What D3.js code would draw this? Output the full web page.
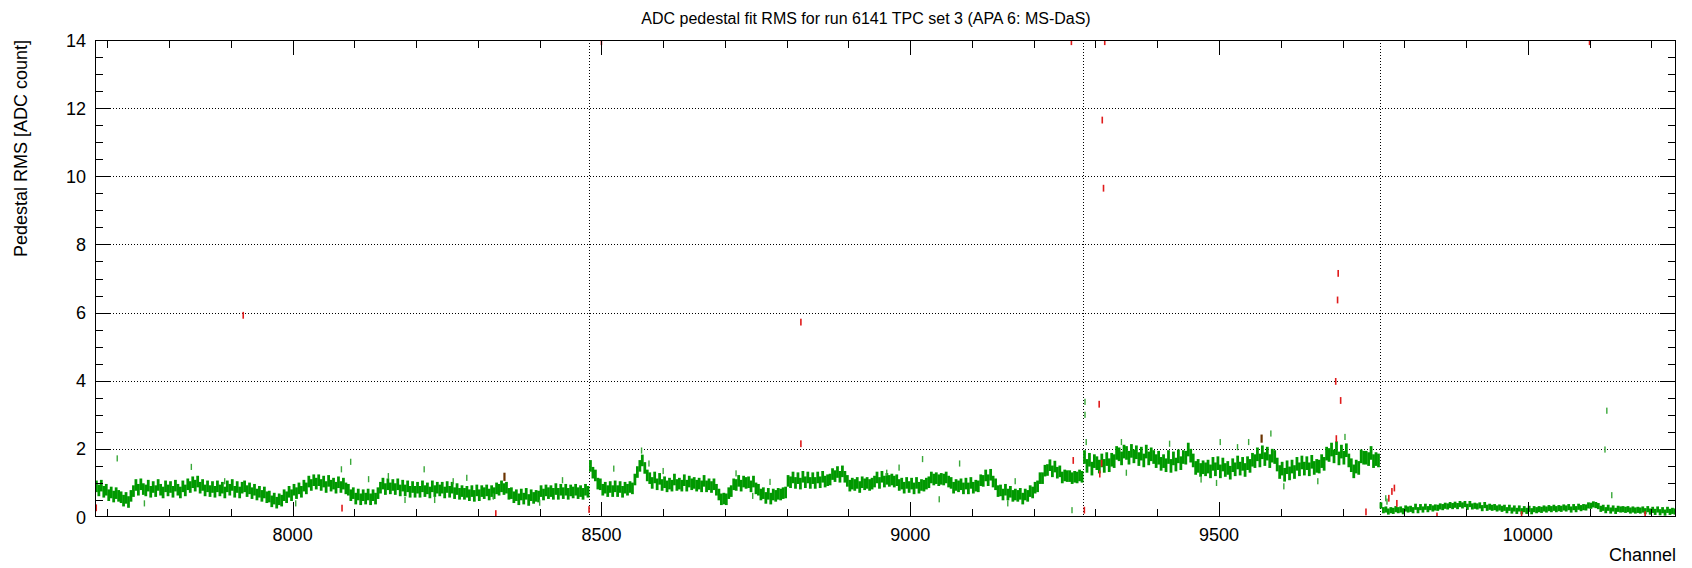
<!DOCTYPE html>
<html lang="en">
<head>
<meta charset="utf-8">
<title>ADC pedestal fit RMS</title>
<script src="https://d3js.org/d3.v7.min.js"></script>
<style>
  body { margin: 0; background: #fff; }
  svg { display: block; }
  text { font-family: "Liberation Sans", Arial, Helvetica, sans-serif; fill: #000; }
</style>
</head>
<body>
<script>
// channel range of APA 6 and section boundaries (dotted separators)
const chanRange = [7680, 10240];
const boundaries = [8480, 9280, 9760];
const step = 4; // one value every 4 channels

// pedestal RMS, one value per 4 channels, per section
const rmsA = [ // 7680 - 8479
  0.90,0.78,0.92,0.74,0.80,0.64,0.72,0.60,0.70,0.62, 0.58,0.48,0.56,0.44,0.62,0.76,0.94,0.80,0.96,0.82,
  0.78,0.92,0.74,0.88,0.76,0.94,0.80,0.72,0.90,0.78, 0.88,0.74,0.92,0.80,0.72,0.90,0.78,0.96,0.88,1.02,
  0.92,1.04,0.86,0.94,0.78,0.90,0.76,0.88,0.74,0.90, 0.78,0.86,0.72,0.90,0.80,0.94,0.74,0.88,0.72,0.86,
  0.90,0.76,0.84,0.70,0.80,0.66,0.74,0.62,0.72,0.58, 0.60,0.46,0.54,0.42,0.52,0.48,0.64,0.58,0.74,0.64,
  0.80,0.70,0.84,0.74,0.92,0.84,1.04,0.94,1.08,0.98, 1.08,0.94,1.04,0.88,1.06,0.92,0.98,0.86,1.02,0.88,
  0.98,0.84,0.80,0.64,0.70,0.54,0.66,0.52,0.64,0.54, 0.66,0.52,0.64,0.54,0.70,0.86,0.98,0.82,0.96,0.84,
  0.94,0.82,0.96,0.78,0.92,0.78,0.90,0.74,0.88,0.74, 0.86,0.74,0.90,0.76,0.84,0.72,0.90,0.76,0.86,0.78,
  0.86,0.72,0.88,0.74,0.86,0.70,0.82,0.68,0.76,0.68, 0.74,0.64,0.76,0.62,0.78,0.64,0.76,0.70,0.78,0.66,
  0.76,0.70,0.84,0.80,0.90,0.82,0.86,0.68,0.70,0.58, 0.64,0.52,0.66,0.54,0.68,0.50,0.64,0.56,0.62,0.60,
  0.76,0.66,0.78,0.70,0.76,0.68,0.82,0.68,0.80,0.70, 0.80,0.68,0.78,0.72,0.80,0.70,0.76,0.68,0.80,0.74
];
const rmsB = [ // 8480 - 9279
  1.50,1.30,1.22,0.98,0.96,0.80,0.86,0.76,0.88,0.76, 0.90,0.76,0.88,0.74,0.86,0.80,0.88,0.84,1.10,1.32,
  1.50,1.66,1.44,1.22,1.14,1.00,1.16,0.96,1.12,0.94, 1.02,0.90,0.98,0.92,1.10,0.94,0.98,0.92,1.08,0.92,
  1.04,0.96,1.00,0.92,0.98,0.90,1.06,0.90,0.96,0.88, 0.96,0.80,0.66,0.52,0.54,0.52,0.70,0.76,0.96,0.94,
  1.06,0.92,1.04,1.00,1.02,0.90,1.04,0.84,0.80,0.66, 0.70,0.56,0.68,0.54,0.66,0.62,0.68,0.66,0.70,0.72,
  1.06,1.02,1.16,1.00,1.14,0.98,1.18,1.02,1.16,1.00, 1.14,1.00,1.16,1.02,1.18,1.04,1.08,1.10,1.26,1.20,
  1.32,1.18,1.34,1.18,1.06,0.92,0.98,0.94,1.00,0.88, 1.02,0.96,1.00,0.94,0.98,1.04,1.16,1.00,1.18,1.04,
  1.12,1.06,1.10,1.04,1.08,0.94,0.98,0.86,1.00,0.88, 0.98,0.84,1.00,0.86,0.94,0.92,0.98,1.02,1.16,1.10,
  1.14,1.08,1.12,1.10,1.16,1.04,1.00,0.86,0.94,0.90, 0.96,0.84,0.98,0.84,1.00,0.86,0.92,0.90,1.08,1.06,
  1.22,1.08,1.24,1.04,0.96,0.76,0.78,0.66,0.80,0.66, 0.74,0.62,0.66,0.62,0.68,0.54,0.66,0.62,0.76,0.72,
  0.86,0.90,1.14,1.14,1.36,1.38,1.52,1.34,1.48,1.30, 1.34,1.16,1.22,1.20,1.20,1.14,1.18,1.16,1.22,1.18
];
const rmsC = [ // 9280 - 9759
  1.76,1.50,1.68,1.42,1.64,1.58,1.48,1.66,1.50,1.70, 1.52,1.68,1.64,1.88,1.84,1.72,1.92,1.88,1.74,1.94,
  1.78,1.90,1.70,1.86,1.66,1.92,1.72,1.84,1.76,1.64, 1.74,1.56,1.64,1.52,1.76,1.50,1.72,1.54,1.78,1.58,
  1.76,1.74,1.98,1.80,1.66,1.44,1.50,1.38,1.46,1.40, 1.48,1.34,1.56,1.40,1.58,1.34,1.54,1.38,1.44,1.30,
  1.52,1.40,1.60,1.42,1.56,1.38,1.58,1.50,1.68,1.64, 1.84,1.66,1.90,1.70,1.86,1.64,1.80,1.76,1.54,1.32,
  1.42,1.24,1.46,1.28,1.48,1.32,1.56,1.40,1.60,1.42, 1.58,1.40,1.62,1.44,1.50,1.48,1.64,1.56,1.86,1.82,
  1.98,1.78,2.02,1.72,1.92,1.74,1.96,1.66,1.52,1.34, 1.48,1.44,1.78,1.74,1.74,1.70,1.88,1.64,1.70,1.66
];
const rmsD = [ // 9760 - 10239
  0.34,0.20,0.22,0.16,0.20,0.18,0.23,0.20,0.22,0.17, 0.25,0.22,0.24,0.20,0.30,0.20,0.29,0.22,0.30,0.23,
  0.29,0.25,0.28,0.27,0.31,0.29,0.33,0.31,0.35,0.32, 0.36,0.32,0.38,0.34,0.38,0.30,0.38,0.31,0.33,0.31,
  0.34,0.26,0.35,0.27,0.30,0.27,0.29,0.25,0.28,0.24, 0.27,0.20,0.27,0.19,0.25,0.18,0.25,0.17,0.23,0.18,
  0.24,0.17,0.23,0.20,0.23,0.21,0.25,0.22,0.26,0.23, 0.27,0.23,0.26,0.24,0.28,0.25,0.29,0.22,0.29,0.23,
  0.30,0.26,0.29,0.28,0.34,0.33,0.37,0.35,0.32,0.24, 0.27,0.20,0.27,0.19,0.25,0.18,0.24,0.22,0.23,0.21,
  0.23,0.19,0.22,0.19,0.21,0.19,0.22,0.17,0.23,0.16, 0.21,0.15,0.22,0.14,0.20,0.13,0.21,0.15,0.18,0.16
];
const sectionStart = [7680, 8480, 9280, 9760];
const sectionErr = [0.17, 0.17, 0.2, 0.09];

// single-channel outliers [channel, rms]
const greenOut = [[7716,1.72],[7760,0.40],[7836,1.47],[7890,1.05],[8005,0.40],[8079,1.40],[8094,1.62],
  [8123,1.11],[8155,1.20],[8182,0.50],[8213,1.40],[8230,0.50],[8260,1.05],[8282,1.15],[8325,0.60],
  [8400,0.42],[8437,1.08],[8520,1.42],[8565,1.95],[8577,1.57],[8600,1.35],[8718,1.28],[8745,0.62],
  [8773,1.03],[8962,1.30],[8982,1.45],[9020,1.70],[9047,0.52],[9080,1.57],[9158,0.40],[9170,1.05],
  [9262,0.20],[9283,3.38],[9283,3.00],[9285,2.20],[9342,2.20],[9350,1.30],[9420,2.15],[9471,1.10],
  [9496,1.00],[9502,2.20],[9530,2.05],[9548,2.20],[9584,2.45],[9605,0.90],[9660,1.05],[9704,2.35],
  [9770,0.55],[9772,0.45],[10125,1.98],[10128,3.12],[10136,0.64]];
const redOut = [[7682,0.27],[7920,5.92],[8080,0.26],[8329,0.10],[8480,0.22],[8500,13.95],[8823,5.72],
  [8823,2.15],[9261,13.95],[9264,1.66],[9282,0.20],[9306,3.31],[9307,1.26],[9310,1.58],[9311,11.65],
  [9313,9.65],[9315,13.95],[9689,3.98],[9690,2.30],[9692,6.37],[9693,7.15],[9697,3.42],[9738,0.15],
  [9775,0.55],[9780,0.75],[9784,0.85],[9788,0.40],[9853,0.03],[9990,0.07],[10100,13.95],[10190,0.07]];
const brownOut = [[8343,1.18],[9569,2.30]];

const yTicks = [0, 2, 4, 6, 8, 10, 12, 14];
const xTicks = [8000, 8500, 9000, 9500, 10000];

const W = 1692, H = 568;
const m = {left: 95, right: 1676, top: 40, bottom: 517};

const x = d3.scaleLinear().domain(chanRange).range([m.left, m.right]);
const y = d3.scaleLinear().domain([0, 14]).range([m.bottom, m.top]);

const svg = d3.select("body").append("svg").attr("width", W).attr("height", H);

svg.append("clipPath").attr("id", "plotclip").append("rect")
  .attr("x", m.left).attr("y", m.top).attr("width", m.right - m.left).attr("height", m.bottom - m.top);

// dotted grid
const grid = svg.append("g").attr("stroke", "#000").attr("stroke-width", 1).attr("stroke-dasharray", "1,2");
grid.selectAll(".hg").data(yTicks.filter(d => d > 0 && d < 14)).join("line")
  .attr("x1", m.left).attr("x2", m.right)
  .attr("y1", d => Math.round(y(d)) + 0.5).attr("y2", d => Math.round(y(d)) + 0.5);
grid.selectAll(".vg").data(boundaries).join("line")
  .attr("y1", m.top).attr("y2", m.bottom)
  .attr("x1", d => Math.round(x(d)) + 0.5).attr("x2", d => Math.round(x(d)) + 0.5);

// main band
const rows = [];
[rmsA, rmsB, rmsC, rmsD].forEach((arr, s) => {
  arr.forEach((v, i) => rows.push({ch: sectionStart[s] + i * step, v: v, e: sectionErr[s]}));
});

const plot = svg.append("g").attr("clip-path", "url(#plotclip)");
plot.selectAll(".bar").data(rows).join("rect")
  .attr("x", d => x(d.ch))
  .attr("width", d => x(d.ch + step) - x(d.ch) + 0.3)
  .attr("y", d => y(d.v + d.e))
  .attr("height", d => y(d.v - d.e) - y(d.v + d.e))
  .attr("fill", "#009900");

function outliers(data, color, w, e) {
  plot.append("g").selectAll("rect").data(data).join("rect")
    .attr("x", d => x(d[0]) - w / 2)
    .attr("width", w)
    .attr("y", d => y(d[1] + e))
    .attr("height", y(0) - y(2 * e))
    .attr("fill", color);
}
outliers(greenOut, "#3aa83a", 1.4, 0.09);
outliers(redOut, "#e01b1b", 1.6, 0.1);
outliers(brownOut, "#6b3300", 2.2, 0.12);

// frame and ticks (inside, all four sides)
const axes = svg.append("g").attr("stroke", "#000").attr("stroke-width", 1);
axes.append("rect").attr("x", m.left + 0.5).attr("y", m.top + 0.5)
  .attr("width", m.right - m.left - 1).attr("height", m.bottom - m.top - 1).attr("fill", "none");

const xMinor = d3.range(7700, 10240, 100);
const yMinor = d3.range(0.5, 14, 0.5);
const xTickLen = c => (c % 500 === 0 ? 15 : 8);
const yTickLen = v => (v % 2 === 0 ? 16 : 8);

axes.selectAll(".xb").data(xMinor).join("line")
  .attr("x1", d => Math.round(x(d)) + 0.5).attr("x2", d => Math.round(x(d)) + 0.5)
  .attr("y1", m.bottom).attr("y2", d => m.bottom - xTickLen(d));
axes.selectAll(".xt").data(xMinor).join("line")
  .attr("x1", d => Math.round(x(d)) + 0.5).attr("x2", d => Math.round(x(d)) + 0.5)
  .attr("y1", m.top).attr("y2", d => m.top + xTickLen(d));
axes.selectAll(".yl").data(yMinor).join("line")
  .attr("y1", d => Math.round(y(d)) + 0.5).attr("y2", d => Math.round(y(d)) + 0.5)
  .attr("x1", m.left).attr("x2", d => m.left + yTickLen(d));
axes.selectAll(".yr").data(yMinor).join("line")
  .attr("y1", d => Math.round(y(d)) + 0.5).attr("y2", d => Math.round(y(d)) + 0.5)
  .attr("x1", m.right).attr("x2", d => m.right - yTickLen(d));

// tick labels
svg.selectAll(".xl").data(xTicks).join("text")
  .attr("x", d => x(d)).attr("y", 541)
  .attr("text-anchor", "middle").attr("font-size", 18)
  .text(d => d);
svg.selectAll(".ylab").data(yTicks).join("text")
  .attr("x", 86).attr("y", d => y(d) + 6.5)
  .attr("text-anchor", "end").attr("font-size", 18)
  .text(d => d);

// titles
svg.append("text").attr("x", 866).attr("y", 24).attr("text-anchor", "middle")
  .attr("font-size", 16)
  .text("ADC pedestal fit RMS for run 6141 TPC set 3 (APA 6: MS-DaS)");
svg.append("text").attr("x", m.right).attr("y", 561).attr("text-anchor", "end")
  .attr("font-size", 18).text("Channel");
svg.append("text").attr("transform", `translate(27,${m.top}) rotate(-90)`)
  .attr("text-anchor", "end").attr("font-size", 18)
  .text("Pedestal RMS [ADC count]");
</script>
</body>
</html>
